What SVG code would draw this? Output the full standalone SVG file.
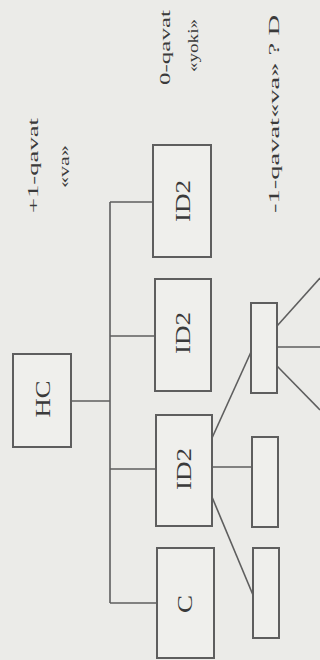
<svg xmlns="http://www.w3.org/2000/svg" width="320" height="660" viewBox="0 0 320 660">
<style>
.bg{fill:#ebebe8}
.box{fill:#efefec;stroke:#5e5e5e;stroke-width:2}
.ln{fill:none;stroke:#5e5e5e;stroke-width:1.6}
.lbl{font-family:"Liberation Serif","Times New Roman",serif;fill:#3a3a3a}
.big{font-size:22px;text-anchor:middle}
.sm{font-size:15px}
</style>
<rect class="bg" x="0" y="0" width="320" height="660"/>
<g id="connectors">
<polyline class="ln" points="71,401 110,401"/>
<line class="ln" x1="110" y1="202" x2="110" y2="603"/>
<line class="ln" x1="110" y1="202" x2="153" y2="202"/>
<line class="ln" x1="110" y1="336" x2="155" y2="336"/>
<line class="ln" x1="110" y1="469" x2="156" y2="469"/>
<line class="ln" x1="110" y1="603" x2="157" y2="603"/>
<line class="ln" x1="212" y1="438" x2="251" y2="352"/>
<line class="ln" x1="212" y1="467" x2="252" y2="467"/>
<line class="ln" x1="212" y1="497" x2="253" y2="595"/>
<line class="ln" x1="277" y1="326" x2="320" y2="278"/>
<line class="ln" x1="277" y1="347" x2="320" y2="347"/>
<line class="ln" x1="277" y1="366" x2="320" y2="410"/>
</g>
<g id="HC">
<rect class="box" x="13" y="354" width="58" height="93"/>
<text class="lbl big" transform="translate(50,399) rotate(-90)" textLength="37" lengthAdjust="spacingAndGlyphs">HC</text>
</g>
<g id="ID2_top">
<rect class="box" x="153" y="145" width="58" height="112"/>
<text class="lbl big" transform="translate(190,201) rotate(-90)" textLength="42" lengthAdjust="spacingAndGlyphs">ID2</text>
</g>
<g id="ID2_mid">
<rect class="box" x="155" y="279" width="56" height="112"/>
<text class="lbl big" transform="translate(190,333) rotate(-90)" textLength="42" lengthAdjust="spacingAndGlyphs">ID2</text>
</g>
<g id="ID2_low">
<rect class="box" x="156" y="415" width="56" height="111"/>
<text class="lbl big" transform="translate(191,469) rotate(-90)" textLength="42" lengthAdjust="spacingAndGlyphs">ID2</text>
</g>
<g id="C">
<rect class="box" x="157" y="548" width="57" height="110"/>
<text class="lbl big" transform="translate(192,604) rotate(-90)" textLength="18" lengthAdjust="spacingAndGlyphs">C</text>
</g>
<g id="S1">
<rect class="box" x="251" y="303" width="26" height="90"/>
</g>
<g id="S2">
<rect class="box" x="252" y="437" width="26" height="90"/>
</g>
<g id="S3">
<rect class="box" x="253" y="548" width="26" height="90"/>
</g>
<g id="labels">
<text class="lbl sm" transform="translate(38,213) rotate(-90)" textLength="95" lengthAdjust="spacingAndGlyphs">+1-qavat</text>
<text class="lbl sm" transform="translate(69,188) rotate(-90)" textLength="43" lengthAdjust="spacingAndGlyphs">«va»</text>
<text class="lbl sm" transform="translate(170,85) rotate(-90)" textLength="75" lengthAdjust="spacingAndGlyphs">0-qavat</text>
<text class="lbl sm" transform="translate(198,72) rotate(-90)" textLength="53" lengthAdjust="spacingAndGlyphs">«yoki»</text>
<text class="lbl sm" transform="translate(279,213) rotate(-90)" textLength="198" lengthAdjust="spacingAndGlyphs">-1-qavat«va» ? D</text>
</g>
</svg>
